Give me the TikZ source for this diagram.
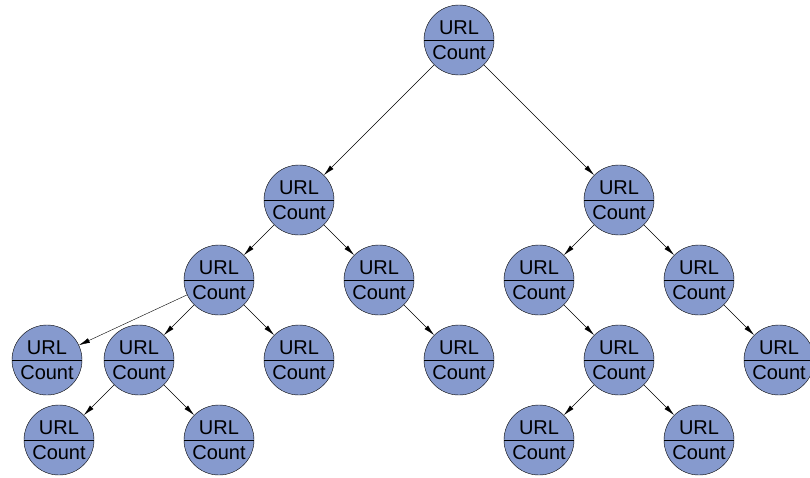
\documentclass[tikz,border=0pt]{standalone}
\usepackage{fontspec}
\setsansfont{Liberation Sans}
\usetikzlibrary{arrows.meta}
\definecolor{nodeblue}{RGB}{134,154,206}
\begin{document}
\begin{tikzpicture}[x=1pt, y=-1pt,
    urlnode/.style={circle, draw, thin, fill=nodeblue, minimum size=70pt, inner sep=0pt,
      align=center, font=\sffamily\fontsize{20}{25}\selectfont,
      path picture={\draw[thin] (path picture bounding box.west) -- (path picture bounding box.east);}},
    link/.style={-{Latex[length=11pt,width=5pt]}, thin}]
  \useasboundingbox (0,0) rectangle (810,477);
  % the tree
  \foreach \name/\pos in {root/{(459,40)},
      l/{(299,200)}, r/{(619,200)},
      ll/{(219,280)}, lr/{(379,280)}, rl/{(539,280)}, rr/{(699,280)},
      lll/{(47,360)}, llm/{(139,360)}, llr/{(299,360)}, lrr/{(459,360)}, rlr/{(619,360)}, rrr/{(779,360)},
      llml/{(59,440)}, llmr/{(219,440)}, rlrl/{(539,440)}, rlrr/{(699,440)}}
    \node[urlnode] (\name) at \pos {URL\\Count};
  \foreach \a/\b in {root/l, root/r, l/ll, l/lr, r/rl, r/rr,
      ll/lll, ll/llm, ll/llr, lr/lrr, rl/rlr, rr/rrr,
      llm/llml, llm/llmr, rlr/rlrl, rlr/rlrr}
    \draw[link] (\a) -- (\b);
\end{tikzpicture}
\end{document}
